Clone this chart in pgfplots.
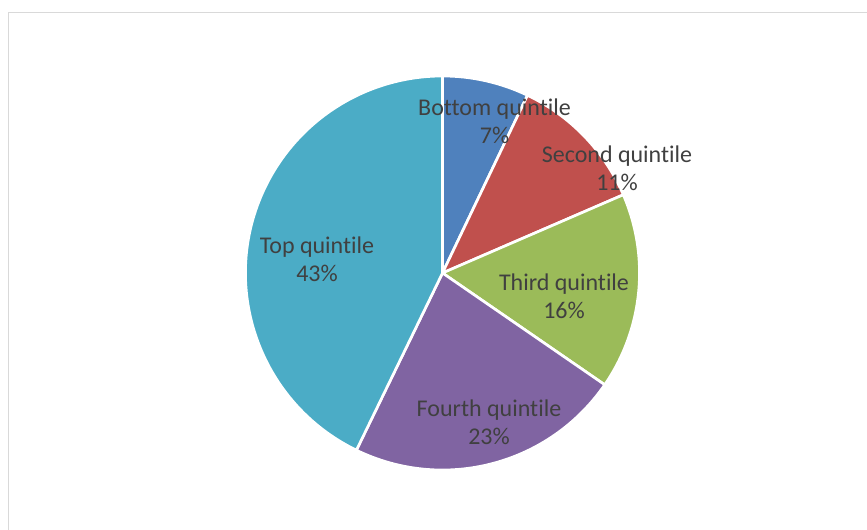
\documentclass[border=0pt]{standalone}
\usepackage{pgfplots}
\pgfplotsset{compat=1.18}
\usepackage{pgfplotstable}
\usepackage{fontspec}
\setmainfont{Carlito}[Ligatures=NoCommon]
\definecolor{cBottom}{HTML}{4F81BD}
\definecolor{cSecond}{HTML}{C0504D}
\definecolor{cThird}{HTML}{9BBB59}
\definecolor{cFourth}{HTML}{8064A2}
\definecolor{cTop}{HTML}{4BACC6}
\definecolor{txt}{HTML}{404040}
\definecolor{framec}{HTML}{D9D9D9}

\pgfplotstableread{
label value
Bottom 7.1
Second 11.4
Third 16.1
Fourth 22.6
Top 42.8
}\piedata

\newcommand\slice[3]{\filldraw[fill=#3, draw=white, line width=2pt, line join=round]
  (axis cs:442.5,256) -- ++(#1:147.75pt) arc[start angle=#1, end angle=#2, radius=147.75pt] -- cycle;}

\begin{document}
\begin{tikzpicture}
\pgfmathsetmacro\angZ{90}
\pgfplotstablegetelem{0}{value}\of\piedata \pgfmathsetmacro\angA{\angZ-3.6*\pgfplotsretval}
\pgfplotstablegetelem{1}{value}\of\piedata \pgfmathsetmacro\angB{\angA-3.6*\pgfplotsretval}
\pgfplotstablegetelem{2}{value}\of\piedata \pgfmathsetmacro\angC{\angB-3.6*\pgfplotsretval}
\pgfplotstablegetelem{3}{value}\of\piedata \pgfmathsetmacro\angD{\angC-3.6*\pgfplotsretval}
\pgfplotstablegetelem{4}{value}\of\piedata \pgfmathsetmacro\angE{\angD-3.6*\pgfplotsretval}
\useasboundingbox (0,0) rectangle (650.25pt,396.75pt);
\clip (0,0) rectangle (650.25pt,396.75pt);
\begin{axis}[
  at={(0,0)}, anchor=south west,
  x=0.75pt, y=0.75pt, scale only axis,
  xmin=0, xmax=867, ymin=0, ymax=529,
  hide axis, clip=false,
]
\draw[framec, line width=1.1pt] (axis cs:8.5,-10) -- (axis cs:8.5,516.5) -- (axis cs:880,516.5);
\slice{\angZ}{\angA}{cBottom}
\slice{\angA}{\angB}{cSecond}
\slice{\angB}{\angC}{cThird}
\slice{\angC}{\angD}{cFourth}
\slice{\angD}{\angE}{cTop}
\tikzset{lab/.style={align=center, text=txt, font=\fontsize{18}{21}\selectfont, inner sep=0pt}}
\node[lab] at (axis cs:494.5,408) {Bottom quintile\\7\%};
\node[lab] at (axis cs:617,361) {Second quintile\\11\%};
\node[lab] at (axis cs:564,233) {Third quintile\\16\%};
\node[lab] at (axis cs:489,107) {Fourth quintile\\23\%};
\node[lab] at (axis cs:317,270) {Top quintile\\43\%};
\end{axis}
\end{tikzpicture}
\end{document}
